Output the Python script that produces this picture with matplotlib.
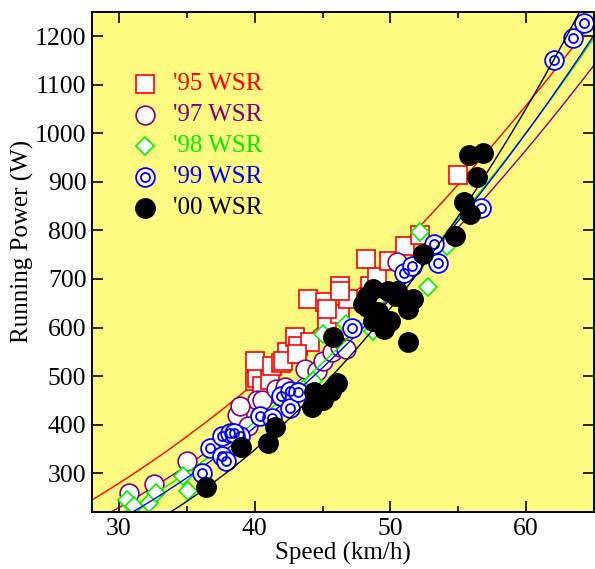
import numpy as np
import matplotlib
matplotlib.use("Agg")
import matplotlib.pyplot as plt
from matplotlib.ticker import MultipleLocator

plt.rcParams['font.family'] = ['Liberation Serif', 'DejaVu Serif']

# '95 WSR
v95 = [40.0, 40.2, 40.5, 40.0, 41.1, 41.3, 41.9, 42.4, 42.1, 43.0, 43.2, 44.1, 43.9, 45.2,
       45.3, 46.3, 46.3, 46.9, 48.2, 48.5, 49.0, 49.9, 51.1, 52.2, 55.0, 43.1, 46.3, 45.3]
p95 = [489, 495, 480, 532, 491, 521, 526, 550, 530, 581, 562, 571, 659, 653,
       614, 685, 628, 659, 741, 685, 704, 737, 767, 790, 915, 546, 675, 638]
# '97 WSR
v97 = [30.7, 32.6, 35.0, 38.7, 39.5, 40.2, 40.5, 38.9, 41.6, 42.2, 43.7, 44.6, 45.0, 45.7,
       46.3, 46.7, 50.5]
p97 = [259, 278, 325, 419, 398, 450, 450, 439, 474, 478, 515, 511, 532, 550,
       560, 556, 735]
# '98 WSR
v98 = [30.6, 31.1, 32.2, 32.7, 34.7, 35.1, 44.3, 45.0, 46.7, 48.7, 52.2, 52.8, 54.2]
p98 = [245, 232, 239, 259, 294, 263, 489, 587, 608, 593, 796, 683, 767]
# '99 WSR
v99 = [36.1, 36.7, 37.6, 37.6, 37.9, 38.2, 38.9, 38.5, 40.4, 41.3, 41.9, 42.6, 42.6, 43.2,
       47.2, 51.0, 51.6, 53.2, 53.5, 56.7, 62.1, 63.5, 64.3]
p99 = [300, 351, 376, 335, 325, 382, 376, 382, 417, 413, 458, 470, 435, 468,
       599, 712, 726, 772, 733, 847, 1151, 1196, 1227]
# '00 WSR
v00 = [36.4, 39.0, 41.0, 41.5, 44.2, 44.4, 45.0, 46.1, 45.6, 45.8, 48.0, 48.3, 48.7, 49.8,
       50.5, 51.7, 48.3, 49.1, 48.7, 49.5, 51.3, 52.4, 55.8, 56.8, 56.4, 55.4, 55.9, 54.8,
       50.4, 51.3, 50.0]
p00 = [271, 353, 362, 396, 437, 468, 450, 485, 470, 581, 649, 665, 679, 675,
       675, 659, 642, 632, 614, 597, 571, 751, 956, 960, 911, 858, 833, 788,
       665, 638, 614]

# power law fits P = c * v**n ('95, '97, '98, '99, '00)
fit_c = [0.4075, 0.1985, 0.1094, 0.08355, 0.01506]
fit_n = [1.920, 2.0735, 2.2278, 2.2935, 2.724]

labels = ["'95 WSR", "'97 WSR", "'98 WSR", "'99 WSR", "'00 WSR"]
colors = ['#ff0000', '#800080', '#00f000', '#0000ff', '#000000']

fig = plt.figure(figsize=(5.95, 5.69), dpi=100)
ax = fig.add_axes((0.1546, 0.1002, 0.8434, 0.8788))
ax.set_facecolor('#fffa80')

vfit = np.linspace(28, 65, 300)

series = [(v95, p95), (v97, p97), (v98, p98), (v99, p99), (v00, p00)]
styles = [
    dict(marker='s', ms=13.5, mfc='white', mec=colors[0], mew=1.2),
    dict(marker='o', ms=13.5, mfc='white', mec=colors[1], mew=1.2),
    dict(marker='D', ms=9.2, mfc='white', mec=colors[2], mew=1.2),
    dict(marker='o', ms=13.5, mfc='white', mec=colors[3], mew=1.3),
    dict(marker='o', ms=14, mfc='black', mec='black', mew=1.0),
]

for (v, p), c, n, col, st in zip(series, fit_c, fit_n, colors, styles):
    ax.plot(vfit, c * vfit ** n, color=col, lw=1.0)
    ax.plot(v, p, ls='none', **st)
    if col == '#0000ff':
        ax.plot(v, p, ls='none', marker='o', ms=6.5, mfc='none', mec=col, mew=1.3)

# legend drawn by hand, text in series colour
ly = [0.856, 0.794, 0.732, 0.670, 0.608]
for y, lab, col, st in zip(ly, labels, colors, styles):
    ax.plot([0.1056], [y], transform=ax.transAxes, ls='none', clip_on=False, **st)
    if col == '#0000ff':
        ax.plot([0.1056], [y], transform=ax.transAxes, ls='none', marker='o', ms=6.5,
                mfc='none', mec=col, mew=1.3)
    ax.text(0.161, y, lab, color=col, transform=ax.transAxes, fontsize=18,
            va='center', ha='left')

ax.set_xlim(28, 65)
ax.set_ylim(220, 1250)
ax.xaxis.set_major_locator(MultipleLocator(10))
ax.xaxis.set_minor_locator(MultipleLocator(5))
ax.yaxis.set_major_locator(MultipleLocator(100))
ax.tick_params(which='both', direction='in', top=True, right=True, width=1.2)
ax.tick_params(which='major', length=8, labelsize=18.5, pad=4)
ax.tick_params(which='minor', length=4)
for s in ax.spines.values():
    s.set_linewidth(1.4)

ax.set_xlabel('Speed (km/h)', fontsize=18, labelpad=2)
ax.set_ylabel('Running Power (W)', fontsize=18)
ax.yaxis.set_label_coords(-0.1155, 0.542)

fig.savefig('out.png', dpi=100)
